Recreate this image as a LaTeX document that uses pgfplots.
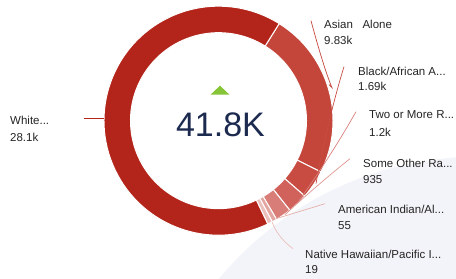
\documentclass[border=0pt]{standalone}
\usepackage{pgfplots}
\pgfplotsset{compat=1.18}
\usepackage{fontspec}
\setmainfont{Liberation Sans}
\definecolor{cW}{HTML}{B3241A}
\definecolor{cA}{HTML}{C4463B}
\definecolor{cB}{HTML}{C84C42}
\definecolor{cC}{HTML}{D0625B}
\definecolor{cD}{HTML}{D87D77}
\definecolor{cE}{HTML}{E3A6A1}
\definecolor{cF}{HTML}{EBBFBB}
\definecolor{bgc}{HTML}{F3F4F9}
\definecolor{navy}{HTML}{1C2A4F}
\definecolor{tri}{HTML}{86C537}
\definecolor{txt}{HTML}{252423}
\newcommand{\seg}[3]{%
  \fill[#3,draw=white,line width=1pt] (axis cs:218.5,158) ++(#1:114.5pt)
    arc[start angle=#1,end angle=#2,radius=114.5pt]
    -- ++(#2:-26.5pt)
    arc[start angle=#2,end angle=#1,radius=88pt] -- cycle;}
\newcommand{\lab}[5]{%
  \node[anchor=base west,inner sep=0pt,text=txt,font=\fontsize{11.5}{13}\selectfont] at (axis cs:#1,#2) {#3};
  \node[anchor=base west,inner sep=0pt,text=txt,font=\fontsize{11.5}{13}\selectfont] at (axis cs:#1,#4) {#5};}
\begin{document}
\begin{tikzpicture}
% values in thousands: White 28.1, Asian 9.83, Black 1.69, Two+ 1.2, Other 0.935, AmInd 0.055, NHPI 0.019
\pgfmathsetmacro\T{28.1+9.83+1.69+1.2+0.935+0.055+0.019}
\pgfmathsetmacro\aS{58}
\pgfmathsetmacro\aA{\aS-9.83/\T*360}
\pgfmathsetmacro\aB{\aA-1.69/\T*360}
\pgfmathsetmacro\aC{\aB-1.2/\T*360}
\pgfmathsetmacro\aD{\aC-0.935/\T*360}
\pgfmathsetmacro\aE{\aD-max(0.055/\T*360,2.5)}
\pgfmathsetmacro\aF{\aE-max(0.019/\T*360,2.5)}
\pgfmathsetmacro\aW{\aS-360}
\begin{axis}[scale only axis,width=456pt,height=275pt,
  xmin=0,xmax=456,ymin=0,ymax=275,hide axis,clip=false]
\begin{scope}
\clip (axis cs:0,0) rectangle (axis cs:456,275);
\fill[bgc] (axis cs:479,-216) circle[radius=338pt];
\end{scope}
\seg{\aS}{\aA}{cA}
\seg{\aA}{\aB}{cB}
\seg{\aB}{\aC}{cC}
\seg{\aC}{\aD}{cD}
\seg{\aD}{\aE}{cE}
\seg{\aE}{\aF}{cF}
\seg{\aF}{\aW}{cW}
% leader lines
\draw[cW,line width=0.8pt] (axis cs:84,160) -- (axis cs:104,160);
\draw[cA,line width=0.7pt] (axis cs:311,258) .. controls (axis cs:318,232) and (axis cs:326,205) .. (axis cs:332,191) -- (axis cs:329,194);
\draw[cB,line width=0.7pt] (axis cs:344,212) .. controls (axis cs:334,180) and (axis cs:322,130) .. (axis cs:316,95);
\draw[cC!80,line width=0.7pt] (axis cs:356,167) .. controls (axis cs:338,135) and (axis cs:315,100) .. (axis cs:299,78);
\draw[cD!80,line width=0.7pt] (axis cs:350,120) .. controls (axis cs:325,100) and (axis cs:300,78) .. (axis cs:285,64);
\draw[cE!90,line width=0.7pt] (axis cs:325,75) -- (axis cs:276,60);
\draw[cF,line width=0.7pt] (axis cs:293,30) .. controls (axis cs:282,38) and (axis cs:275,48) .. (axis cs:272,57);
% centre
\fill[tri] (axis cs:220,193) -- (axis cs:229.5,184) -- (axis cs:210.5,184) -- cycle;
\node[text=navy,inner sep=0pt,font=\fontsize{34}{34}\selectfont] at (axis cs:220.5,154) {41.8K};
% labels
\lab{10}{154}{White...}{137.5}{28.1k}
\lab{324}{250}{Asian\ \ \ Alone}{234}{9.83k}
\lab{358}{203.5}{Black/African A...}{188}{1.69k}
\lab{369}{160}{Two or More R...}{142.5}{1.2k}
\lab{363}{111}{Some Other Ra...}{95}{935}
\lab{338}{65}{American Indian/Al...}{49.5}{55}
\lab{305}{20}{Native Hawaiian/Pacific I...}{5.5}{19}
\end{axis}
\end{tikzpicture}
\end{document}
